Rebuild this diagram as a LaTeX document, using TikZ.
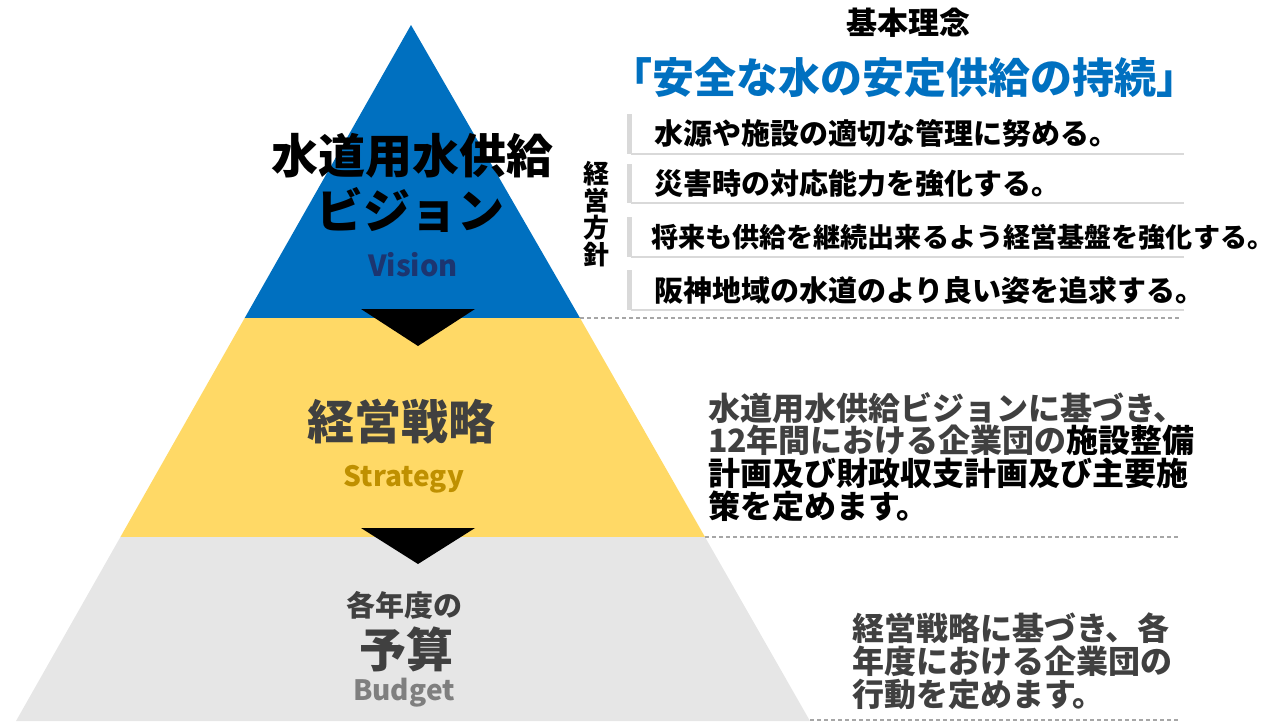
\documentclass[tikz,border=0pt]{standalone}
\usepackage{fontspec}
\setmainfont{Noto Sans CJK JP}
\definecolor{pblue}{HTML}{0070C0}
\definecolor{pyellow}{HTML}{FFD966}
\definecolor{pgray}{HTML}{E6E6E6}
\definecolor{dgray}{HTML}{404040}
\definecolor{navyc}{HTML}{1C3570}
\definecolor{goldc}{HTML}{BF9000}
\definecolor{midgray}{HTML}{7F7F7F}
\definecolor{lgray}{HTML}{D9D9D9}
\definecolor{dashgray}{HTML}{A6A6A6}
\newcommand\fsz[1]{\fontsize{#1}{#1}\selectfont}
\begin{document}
\begin{tikzpicture}[x=1pt,y=-1pt,
  txt/.style={inner sep=0pt, outer sep=0pt},
  flowtip/.style={fill=black, draw=none},
  sepline/.style={dashgray, line width=1.4pt, dash pattern=on 4pt off 3pt},
  policybar/.style={lgray, line width=5pt},
  policyline/.style={lgray, line width=1.6pt},
  policytext/.style={txt, anchor=west, font=\bfseries\fsz{29}},
  desc/.style={txt, anchor=west, font=\bfseries\fsz{32}}]
\useasboundingbox (0,0) rectangle (1279,721);
% pyramid layers
\coordinate (apex) at (411,25);
\coordinate (bl1) at (244.7,318); \coordinate (br1) at (580,318);
\coordinate (bl2) at (120.4,537); \coordinate (br2) at (705,537);
\coordinate (bl3) at (16,721);    \coordinate (br3) at (810,721);
\fill[pblue] (apex) -- (br1) -- (bl1) -- cycle;
\fill[pyellow] (bl1) -- (br1) -- (br2) -- (bl2) -- cycle;
\fill[pgray] (bl2) -- (br2) -- (br3) -- (bl3) -- cycle;
% arrows
\fill[flowtip] (361,309) -- (475,309) -- (418,346) -- cycle;
\fill[flowtip] (361,528) -- (475,528) -- (418,564) -- cycle;
% dashed separators
\coordinate (d1) at (1180,318); \coordinate (d2) at (1180,537); \coordinate (d3) at (1180,720);
\coordinate (d3s) at (810,720);
\draw[sepline] (br1) -- (d1);
\draw[sepline] (br2) -- (d2);
\draw[sepline] (d3s) -- (d3);
% pyramid texts
\node[txt, font=\bfseries\fsz{47}] (v1) at (412,156) {水道用水供給};
\node[txt, font=\bfseries\fsz{47}] (v2) at (410,210) {ビジョン};
\node[txt, font=\bfseries\fsz{29}, text=navyc] (v3) at (413,265) {Vision};
\node[txt, font=\bfseries\fsz{47}, text=dgray] (s1) at (401,422) {経営戦略};
\node[txt, font=\bfseries\fsz{28}, text=goldc] (s2) at (404,479) {Strategy};
\node[txt, font=\bfseries\fsz{29}, text=dgray] (b1) at (404,605) {各年度の};
\node[txt, font=\bfseries\fsz{47}, text=dgray] (b2) at (406,649) {予算};
\node[txt, font=\bfseries\fsz{28}, text=midgray] (b3) at (404,693) {Budget};
% top right
\node[txt, font=\bfseries\fsz{31}] (kr) at (908,23) {基本理念};
\node[txt, font=\bfseries\fsz{42}, text=pblue] (kr2) at (904,78) {「安全な水の安定供給の持続」};
% policies
\node[txt, font=\bfseries\fsz{26}, align=center] (hs) at (596,214) {経\\[1pt]営\\[1pt]方\\[1pt]針};
\draw[policybar] (629,114) -- (629,154);
\draw[policyline] (631,154) -- (1184,154);
\draw[policybar] (629,164) -- (629,203);
\draw[policyline] (631,203) -- (1184,203);
\draw[policybar] (629,217) -- (629,257);
\draw[policyline] (631,257) -- (1184,257);
\draw[policybar] (629,270) -- (629,310);
\draw[policyline] (631,310) -- (1184,310);
\node[policytext] (p1) at (654,133) {水源や施設の適切な管理に努める。};
\node[policytext] (p2) at (654,183) {災害時の対応能力を強化する。};
\node[policytext, font=\bfseries\fsz{27.1}] (p3) at (651,237) {将来も供給を継続出来るよう経営基盤を強化する。};
\node[policytext] (p4) at (654,290) {阪神地域の水道のより良い姿を追求する。};
% strategy description
\node[desc, text=dgray] (m1) at (708,408) {水道用水供給ビジョンに基づき、};
\node[desc, text=dgray] (m2) at (708,440) {12年間における企業団の\textcolor{black}{施設整備}};
\node[desc] (m3) at (708,473) {計画及び財政収支計画及び主要施};
\node[desc] (m4) at (708,506) {策を定めます。};
% budget description
\node[desc, text=dgray] (n1) at (852,628) {経営戦略に基づき、各};
\node[desc, text=dgray] (n2) at (852,661) {年度における企業団の};
\node[desc, text=dgray] (n3) at (852,694) {行動を定めます。};
\end{tikzpicture}
\end{document}
